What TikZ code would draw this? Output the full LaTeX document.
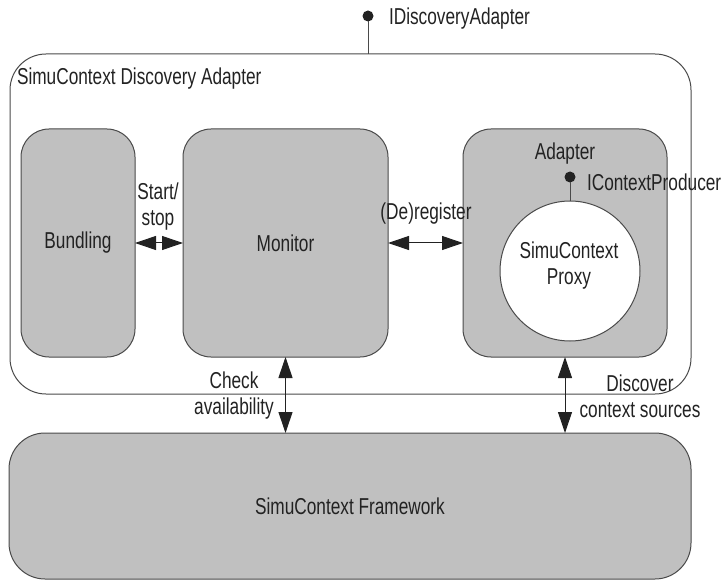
\documentclass[tikz,border=0pt]{standalone}
\usepackage{fontspec}
\setmainfont{Liberation Sans}[FakeStretch=0.75]
\usetikzlibrary{arrows.meta}
\definecolor{boxgray}{HTML}{C0C0C0}
\definecolor{edge}{HTML}{4A4A4A}
\definecolor{ink}{HTML}{222222}
\begin{document}
\begin{tikzpicture}[x=1pt,y=-1pt,
  every node/.style={font=\fontsize{23}{26}\selectfont, text=ink, inner sep=0pt, outer sep=0pt},
  container/.style={draw=edge, line width=1pt, rounded corners=36pt},
  part/.style={draw=edge, fill=boxgray, line width=1pt, rounded corners=28pt},
  bigpart/.style={draw=edge, fill=boxgray, line width=1pt, rounded corners=36pt},
  dbl/.style={draw=ink, line width=1pt, {Triangle[length=21pt,width=14pt]}-{Triangle[length=21pt,width=14pt]}},
  lollidot/.style={circle, fill=ink, minimum size=11pt},
  stalk/.style={draw=edge, line width=1pt}]
\useasboundingbox (0,0) rectangle (721,583);
% containers and boxes
\node[container, minimum width=681pt, minimum height=340pt] (outer) at (350.5,224) {};
\node[part, minimum width=114pt, minimum height=228pt] (bund) at (78,243) {Bundling};
\node[part, minimum width=205pt, minimum height=228pt] (mon) at (285.5,243) {Monitor};
\node[part, minimum width=204pt, minimum height=228pt] (adp) at (565,243) {};
\node[circle, draw=edge, fill=white, line width=1pt, minimum size=140pt] (proxy) at (570,271) {};
\node[align=center] (proxytxt) at (569,266) {SimuContext\\Proxy};
\node[bigpart, minimum width=682pt, minimum height=146pt] (fw) at (350,506) {SimuContext Framework};
% labels
\node[anchor=base west] (ttl) at (17,85) {SimuContext Discovery Adapter};
\node[anchor=base] (adl) at (565,160) {Adapter};
% interfaces
\node[lollidot] (d1) at (368,16) {};
\draw[stalk] (d1) -- (d1 |- outer.north);
\node[anchor=base west] (ida) at (389,25) {IDiscoveryAdapter};
\node[lollidot] (d2) at (570,177) {};
\draw[stalk] (d2) -- (proxy.north);
\node[anchor=base west] (icp) at (587,191) {IContextProducer};
% connectors
\draw[dbl] (bund.east) -- (mon.west);
\draw[dbl] (mon.east) -- (adp.west);
\draw[dbl] (mon.south) -- (mon.south |- fw.north);
\draw[dbl] (adp.south) -- (adp.south |- fw.north);
% connector labels
\node[align=center] (ssl) at (158,207) {Start/\\stop};
\node[anchor=base] (drl) at (426,220) {(De)register};
\node[align=center] (cal) at (234,396) {Check\\availability};
\node[align=center] (dcl) at (640,396) {Discover\\context sources};
\end{tikzpicture}
\end{document}
